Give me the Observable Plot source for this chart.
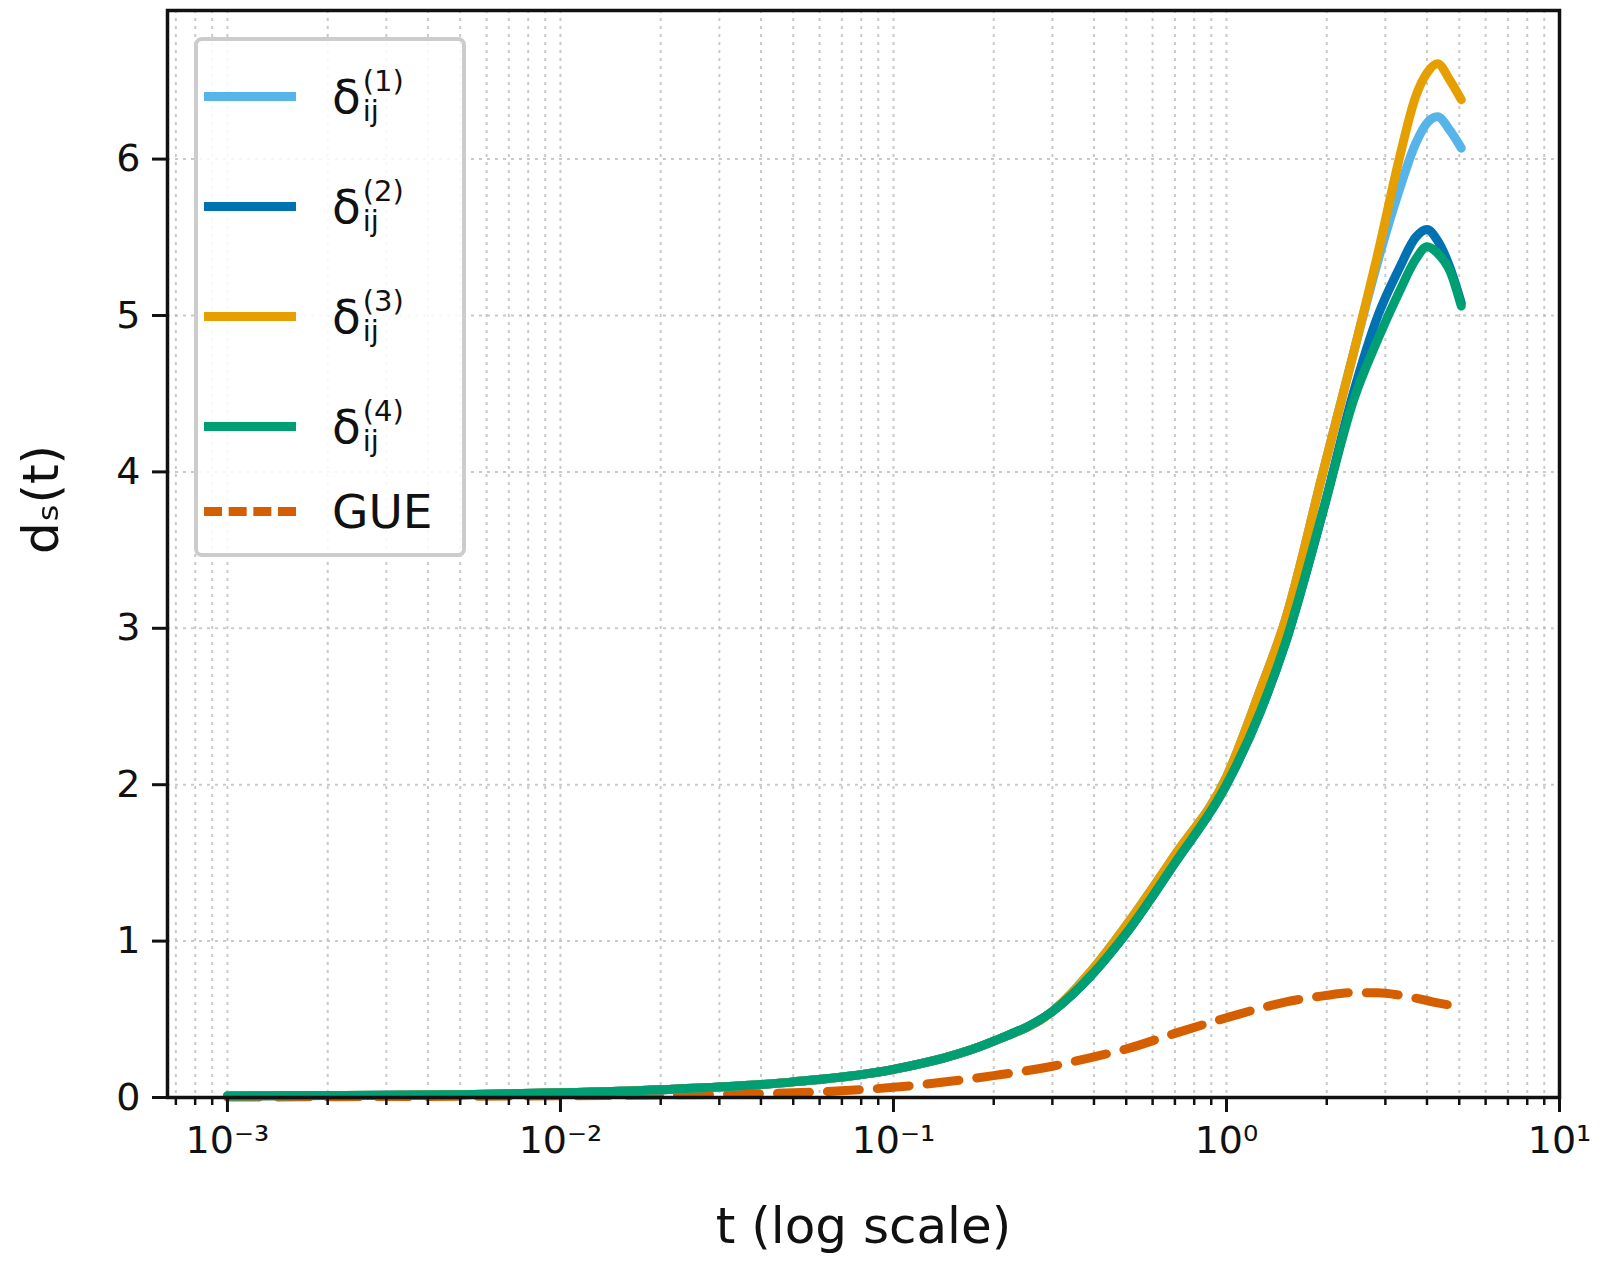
<!DOCTYPE html>
<html><head><meta charset="utf-8">
<script src="https://cdn.jsdelivr.net/npm/d3@7"></script>
<script src="https://cdn.jsdelivr.net/npm/@observablehq/plot@0.6"></script>
<style>
html,body{margin:0;background:#fff;font-family:"DejaVu Sans",sans-serif;overflow:hidden}
#wrap{position:relative;width:1600px;height:1283px;overflow:hidden}
#chart svg{display:block}
#legend{position:absolute;left:194px;top:37px;width:272px;height:520px;border:4px solid #ccc;border-radius:8px;background:rgba(255,255,255,0.85);box-sizing:border-box}
.row{position:absolute;left:6px;display:flex;align-items:center;font-size:47px;color:#111;height:90px}
.sw{width:92px;height:0;border-top:9px solid;margin-right:36px}
.sc{display:inline-flex;flex-direction:column;font-size:29px;line-height:30px;margin-left:2px}
</style></head><body><div id="wrap"><div id="chart"></div><div id="legend"></div></div>
<script>
const t=[0.001,0.002,0.005,0.01,0.02,0.05,0.1,0.2,0.3,0.4,0.5,0.7,1.0,1.26,1.5,1.95,2.4,2.85,3.3,3.7,4.0,4.3,4.7,5.07];
const d1=[0.01,0.012,0.018,0.03,0.05,0.1,0.18,0.36,0.55,0.83,1.1,1.55,2.05,2.6,3.05,4.0,4.75,5.35,5.8,6.1,6.23,6.27,6.18,6.07];
const d2=[0.01,0.012,0.018,0.03,0.05,0.1,0.18,0.36,0.55,0.8,1.05,1.5,2.0,2.46,2.9,3.75,4.5,5.0,5.3,5.5,5.55,5.48,5.3,5.08];
const d3=[0.01,0.012,0.018,0.03,0.05,0.1,0.18,0.36,0.55,0.83,1.1,1.55,2.05,2.6,3.05,4.0,4.75,5.4,6.0,6.4,6.55,6.61,6.5,6.38];
const d4=[0.01,0.012,0.018,0.03,0.05,0.1,0.18,0.36,0.55,0.8,1.05,1.5,2.0,2.46,2.9,3.75,4.45,4.85,5.15,5.36,5.44,5.4,5.28,5.06];
const gue=[0.003,0.005,0.008,0.011,0.016,0.03,0.065,0.14,0.2,0.26,0.31,0.41,0.51,0.57,0.61,0.65,0.67,0.67,0.655,0.635,0.62,0.605,0.59,0.575];
const names=["d1","d2","d3","d4"];
const colors=["#56b4e9","#0072b2","#e69f00","#009e73"];
const gueColor="#d55e00";
const series=[d1,d2,d3,d4];
const majorX=[0.001,0.01,0.1,1,10];
const majorLabels=["10⁻³","10⁻²","10⁻¹","10⁰","10¹"];
const minorX=[];for(let e=-4;e<=0;e++)for(let k=2;k<=9;k++){const v=k*10**e;if(v>0.00067&&v<10)minorX.push(v);}
const yTicks=[0,1,2,3,4,5,6];
const rows=[];series.forEach((s,i)=>t.forEach((x,j)=>rows.push({t:x,v:s[j],k:names[i]})));
const g=t.map((x,j)=>({t:x,v:gue[j]}));
const fmt=d=>majorLabels[majorX.indexOf(d)];
const p=Plot.plot({width:1600,height:1283,marginLeft:167,marginRight:41,marginTop:10,marginBottom:186,
 style:{fontFamily:"DejaVu Sans",fontSize:"38px",color:"#111"},
 x:{type:"log",domain:[10**-3.18,10],label:null},
 y:{domain:[0,6.95],label:null},
 marks:[
  Plot.gridX(minorX,{stroke:"#bbb",strokeOpacity:0.8,strokeDasharray:"3,5",strokeWidth:2}),
  Plot.gridX(majorX,{stroke:"#bbb",strokeOpacity:0.8,strokeDasharray:"3,5",strokeWidth:2}),
  Plot.gridY(yTicks,{stroke:"#bbb",strokeOpacity:0.8,strokeDasharray:"3,5",strokeWidth:2}),
  Plot.line(g,{x:"t",y:"v",stroke:gueColor,strokeWidth:9,strokeDasharray:"32,18",curve:"monotone-x"}),
  Plot.line(rows,{x:"t",y:"v",z:"k",stroke:d=>colors[names.indexOf(d.k)],strokeWidth:9,curve:"monotone-x"}),
  Plot.axisX(minorX,{tickFormat:()=>"",tickSize:8,strokeWidth:2.5}),
  Plot.axisX(majorX,{tickFormat:fmt,tickSize:15,strokeWidth:3,tickPadding:14,fontSize:38}),
  Plot.axisY(yTicks,{tickFormat:d=>String(d),tickSize:15,strokeWidth:3,tickPadding:12,fontSize:38}),
  Plot.frame({stroke:"#111",strokeWidth:3.5}),
  Plot.text(["t (log scale)"],{frameAnchor:"bottom",dy:145,fontSize:50}),
  Plot.text(["dₛ(t)"],{frameAnchor:"left",dx:-126,rotate:-90,fontSize:50})
 ]});
document.getElementById("chart").appendChild(p);
const lg=document.getElementById("legend");
const sups=["(1)","(2)","(3)","(4)"];
sups.forEach((s,i)=>{const r=document.createElement("div");r.className="row";r.style.top=(10+i*110)+"px";
 r.innerHTML=`<div class="sw" style="border-color:${colors[i]}"></div><span>δ</span><span class="sc"><span>${s}</span><span>ij</span></span>`;lg.appendChild(r);});
const r=document.createElement("div");r.className="row";r.style.top="425px";
r.innerHTML=`<div class="sw" style="border-top:9px dashed ${gueColor}"></div><span>GUE</span>`;lg.appendChild(r);
</script></body></html>
